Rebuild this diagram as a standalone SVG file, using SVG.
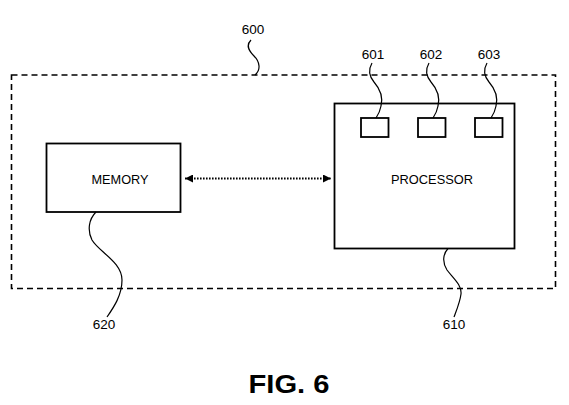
<svg xmlns="http://www.w3.org/2000/svg" width="569" height="405" viewBox="0 0 569 405">
  <defs>
    <style>
      .box { fill: #fff; stroke: #000; stroke-width: 1.8; }
      .dash { fill: none; stroke: #000; stroke-width: 1.6; stroke-dasharray: 6 4; }
      .lead { fill: none; stroke: #000; stroke-width: 1.2; }
      .lbl { font-family: "Liberation Sans", Arial, sans-serif; font-size: 13.5px; fill: #000; text-anchor: middle; }
      .fig { font-family: "Liberation Sans", Arial, sans-serif; font-size: 26px; font-weight: bold; fill: #000; text-anchor: middle; }
      .dot { fill: none; stroke: #000; stroke-width: 2; stroke-dasharray: 1.6 1.4; }
    </style>
    <marker id="ah" viewBox="0 0 8 8" refX="8" refY="4" markerWidth="8" markerHeight="8" markerUnits="userSpaceOnUse" orient="auto-start-reverse">
      <path d="M0,0 L8,4 L0,8 Z" fill="#000"/>
    </marker>
  </defs>
  <rect width="569" height="405" fill="#fff"/>

  <g id="system-600">
    <rect class="dash" x="11.5" y="75" width="544" height="213.5"/>
    <text class="lbl" x="253" y="34">600</text>
  </g>

  <g id="memory-620">
    <rect class="box" x="46.5" y="143.5" width="134" height="68.5"/>
    <text class="lbl" x="120" y="184" textLength="57" lengthAdjust="spacingAndGlyphs">MEMORY</text>
    <text class="lbl" x="104" y="329">620</text>
  </g>

  <g id="processor-610">
    <rect class="box" x="334.5" y="103.5" width="180" height="145"/>
    <text class="lbl" x="432" y="184" textLength="82" lengthAdjust="spacingAndGlyphs">PROCESSOR</text>
    <text class="lbl" x="454" y="329">610</text>
  </g>

  <g id="unit-601">
    <rect class="box" x="361" y="118" width="27.5" height="19"/>
    <text class="lbl" x="373" y="59">601</text>
  </g>
  <g id="unit-602">
    <rect class="box" x="418" y="118" width="27.5" height="19"/>
    <text class="lbl" x="431" y="59">602</text>
  </g>
  <g id="unit-603">
    <rect class="box" x="475" y="118" width="27.5" height="19"/>
    <text class="lbl" x="489" y="59">603</text>
  </g>

  <g id="connectors">
    <line class="dot" x1="185" y1="178.5" x2="331" y2="178.5" marker-start="url(#ah)" marker-end="url(#ah)"/>
    <path class="lead" d="M251,40 C246,45 248,50 254,56 C260,62 261,70 255,75"/>
    <path class="lead" d="M372,63 C368,70 369,76 374,82 C381,90 383,98 381,106 C380,112 378,115 376,118"/>
    <path class="lead" d="M429,63 C425,70 426,76 431,82 C438,90 440,98 438,106 C437,112 435,115 433,118"/>
    <path class="lead" d="M487,63 C483,70 484,76 489,82 C496,90 498,98 496,106 C495,112 493,115 491,118"/>
    <path class="lead" d="M448,248.5 C443,254 442,262 447,270 C453,278 462,285 461,294 C460,302 457,309 454,317"/>
    <path class="lead" d="M96,212 C89,219 87,230 92,240 C99,252 122,262 122,280 C122,295 114,307 107,317"/>
  </g>

  <text class="fig" x="289" y="393" textLength="81" lengthAdjust="spacingAndGlyphs">FIG. 6</text>
</svg>
